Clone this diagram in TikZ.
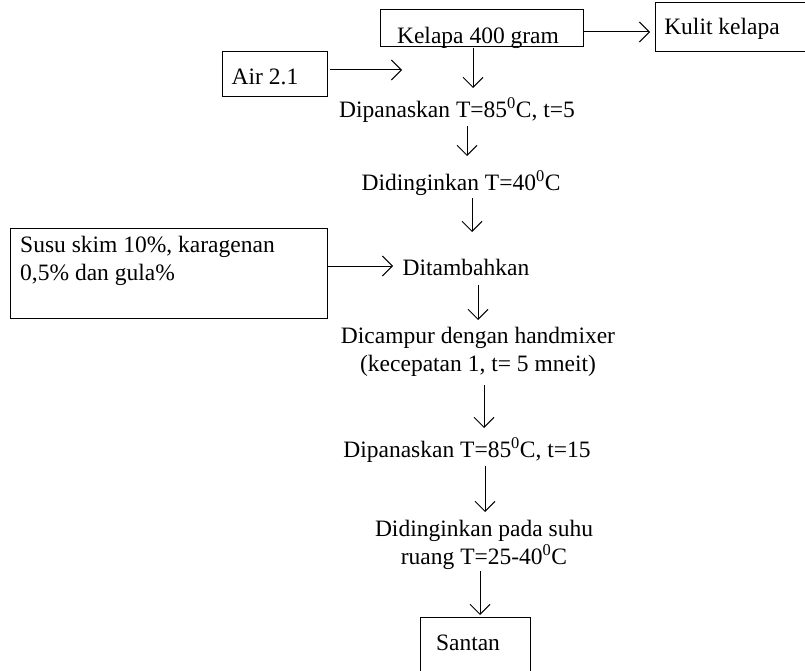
\documentclass[tikz,border=0pt]{standalone}
\usepackage{fontspec}
\setmainfont{Liberation Serif}
\usetikzlibrary{arrows.meta}
\begin{document}
\begin{tikzpicture}[x=1pt,y=-1pt,
  every node/.style={font=\fontsize{23.5}{28}\selectfont, inner sep=0pt},
  box/.style={draw, line width=1pt},
  arr/.style={line width=1pt, -{Straight Barb[length=10pt,width=20pt]}},
  lbl/.style={align=center}]
\useasboundingbox (0,0) rectangle (805,671);
\clip (0,0) rectangle (805,671);
% boxes
\node[box, minimum width=203pt, minimum height=37pt] (kelapa) at (481.5,28.5) {};
\node[anchor=base] (kelapatxt) at (478,43.5) {Kelapa 400 gram};
\node[box, minimum width=150pt, minimum height=49pt] (kulit) at (730,27.5) {};
\node[anchor=base] (kulittxt) at (722,35) {Kulit kelapa};
\node[box, minimum width=105pt, minimum height=45pt] (air) at (274.5,74.5) {};
\node[anchor=base] (airtxt) at (265,85) {Air 2.1};
\node[box, minimum width=317pt, minimum height=90pt] (susu) at (168.5,273) {};
\node[anchor=north west, align=left] (susutxt) at (20,236) {Susu skim 10\%, karagenan\\0,5\% dan gula\%};
\node[box, minimum width=110pt, minimum height=70pt, anchor=north] (santan) at (475,617) {};
\node[anchor=base] (santantxt) at (468,650) {Santan};
% process steps
\node[lbl] (s1) at (457,110) {Dipanaskan T=85\textsuperscript{0}C, t=5};
\node[lbl] (s2) at (461,183) {Didinginkan T=40\textsuperscript{0}C};
\node[lbl] (s3) at (466,267) {Ditambahkan};
\node[lbl] (s4) at (478,352) {Dicampur dengan handmixer\\(kecepatan 1, t= 5 mneit)};
\node[lbl] (s5) at (467,450) {Dipanaskan T=85\textsuperscript{0}C, t=15};
\node[lbl] (s6) at (484,545) {Didinginkan pada suhu\\ruang T=25-40\textsuperscript{0}C};
% arrow ends
\coordinate (a1) at (473,48);  \coordinate (b1) at (473,88);
\coordinate (a2) at (467,126); \coordinate (b2) at (467,156);
\coordinate (a3) at (472,198); \coordinate (b3) at (472,232);
\coordinate (a4) at (478,285); \coordinate (b4) at (478,320);
\coordinate (a5) at (484,385); \coordinate (b5) at (484,428);
\coordinate (a6) at (485,466); \coordinate (b6) at (485,512);
\coordinate (a7) at (480,571); \coordinate (b7) at (480,615);
\coordinate (h1) at (650,32);
\coordinate (h2) at (402,70);
\coordinate (h3) at (393,266);
\draw[arr] (a1) -- (b1);
\draw[arr] (a2) -- (b2);
\draw[arr] (a3) -- (b3);
\draw[arr] (a4) -- (b4);
\draw[arr] (a5) -- (b5);
\draw[arr] (a6) -- (b6);
\draw[arr] (a7) -- (b7);
\draw[arr] (kelapa.east |- h1) -- (h1);
\draw[arr] (330,70) -- (h2);
\draw[arr] (susu.east |- h3) -- (h3);
\end{tikzpicture}
\end{document}
